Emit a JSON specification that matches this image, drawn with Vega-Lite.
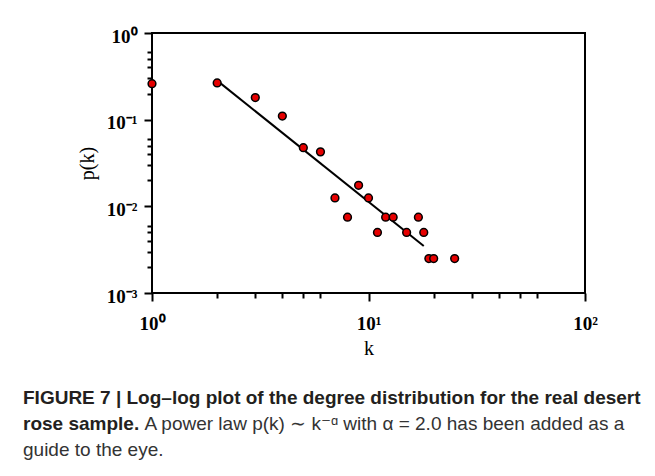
{
  "$schema": "https://vega.github.io/schema/vega-lite/v6.json",
  "width": 433,
  "height": 260,
  "autosize": {"type": "none"},
  "padding": {"left": 152, "top": 33, "right": 70, "bottom": 183},
  "background": "white",
  "config": {
    "view": {"stroke": "black", "strokeWidth": 2},
    "axis": {
      "grid": false,
      "domain": false,
      "tickColor": "black",
      "tickWidth": 2,
      "labelColor": "black",
      "labelFont": "Liberation Serif",
      "labelFontWeight": "bold",
      "labelFontSize": 19,
      "labelOverlap": false,
      "labelFlush": false,
      "labelBound": false,
      "titleFont": "Liberation Serif",
      "titleFontWeight": "normal",
      "titleFontSize": 20,
      "titleColor": "black"
    }
  },
  "title": {
    "text": ["FIGURE 7 | Log–log plot of the degree distribution for the real desert", "rose sample."],
    "subtitle": ["\u200b\u00a0\u00a0\u00a0\u00a0\u00a0\u00a0\u00a0\u00a0\u00a0\u00a0\u00a0\u00a0\u00a0\u00a0\u00a0\u00a0\u00a0\u00a0\u00a0\u00a0\u00a0\u00a0\u00a0A power law p(k) ∼ k⁻ᵅ with α = 2.0 has been added as a", "guide to the eye."],
    "orient": "bottom",
    "anchor": "start",
    "frame": "group",
    "dx": -129,
    "offset": 31,
    "font": "Liberation Sans",
    "fontSize": 19,
    "fontWeight": "bold",
    "color": "#231f20",
    "lineHeight": 26,
    "subtitleFont": "Liberation Sans",
    "subtitleFontSize": 19,
    "subtitleColor": "#333333",
    "subtitleLineHeight": 26,
    "subtitlePadding": -19
  },
  "datasets": {
    "points": [
      {"k": 1, "p": 0.26},
      {"k": 2, "p": 0.265},
      {"k": 3, "p": 0.18},
      {"k": 4, "p": 0.11},
      {"k": 5, "p": 0.0475},
      {"k": 6, "p": 0.0425},
      {"k": 7, "p": 0.0125},
      {"k": 8, "p": 0.0075},
      {"k": 9, "p": 0.0175},
      {"k": 10, "p": 0.0125},
      {"k": 11, "p": 0.005},
      {"k": 12, "p": 0.0075},
      {"k": 13, "p": 0.0075},
      {"k": 15, "p": 0.005},
      {"k": 17, "p": 0.0075},
      {"k": 18, "p": 0.005},
      {"k": 19, "p": 0.0025},
      {"k": 20, "p": 0.0025},
      {"k": 25, "p": 0.0025}
    ],
    "fit": [
      {"k": 2, "p": 0.282},
      {"k": 18, "p": 0.00348}
    ]
  },
  "encoding": {
    "x": {
      "field": "k",
      "type": "quantitative",
      "scale": {"type": "log", "domain": [1, 100], "nice": false},
      "axis": {
        "title": "k",
        "values": [1, 2, 3, 4, 5, 6, 10, 20, 30, 40, 50, 60, 100],
        "tickSize": {"expr": "abs(log(datum.value)/LN10 - round(log(datum.value)/LN10)) < 1e-6 ? 8 : 5"},
        "labelExpr": "abs(log(datum.value)/LN10 - round(log(datum.value)/LN10)) < 1e-6 ? '10' + replace(replace(replace(replace(replace(toString(round(log(datum.value)/LN10)), '-', '⁻'), '0', '⁰'), '1', '¹'), '2', '²'), '3', '³') : ''",
        "labelPadding": 13,
        "titlePadding": 5
      }
    },
    "y": {
      "field": "p",
      "type": "quantitative",
      "scale": {"type": "log", "domain": [0.001, 1], "nice": false},
      "axis": {
        "title": "p(k)",
        "values": [0.001, 0.002, 0.003, 0.004, 0.005, 0.006, 0.01, 0.02, 0.03, 0.04, 0.05, 0.06, 0.1, 0.2, 0.3, 0.4, 0.5, 0.6, 1],
        "tickSize": {"expr": "abs(log(datum.value)/LN10 - round(log(datum.value)/LN10)) < 1e-6 ? 8 : 5"},
        "labelExpr": "abs(log(datum.value)/LN10 - round(log(datum.value)/LN10)) < 1e-6 ? '10' + replace(replace(replace(replace(replace(toString(round(log(datum.value)/LN10)), '-', '⁻'), '0', '⁰'), '1', '¹'), '2', '²'), '3', '³') : ''",
        "labelPadding": 7,
        "labelOffset": 3,
        "titlePadding": 9
      }
    }
  },
  "layer": [
    {
      "data": {"name": "fit"},
      "mark": {"type": "line", "color": "black", "strokeWidth": 2}
    },
    {
      "data": {"name": "points"},
      "mark": {"type": "point", "filled": true, "fill": "#e60000", "stroke": "black", "strokeWidth": 1.5, "size": 60, "opacity": 1, "clip": false}
    }
  ]
}
